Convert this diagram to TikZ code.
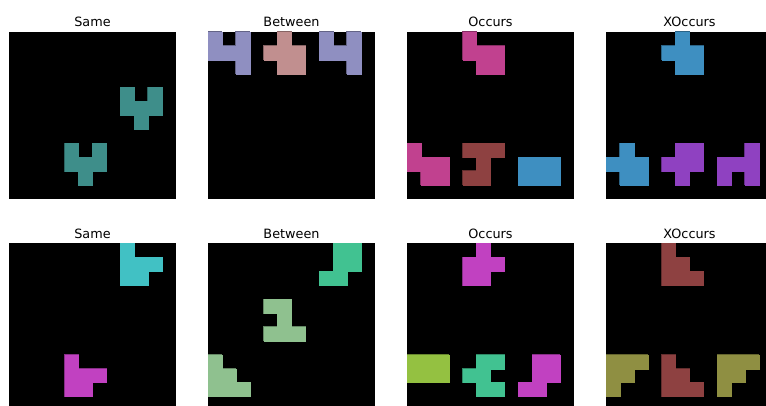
\documentclass[tikz,border=0pt]{standalone}
\usepackage{fontspec}
\setmainfont{DejaVu Sans}
\usepackage{tikz}
\usetikzlibrary{positioning}
\definecolor{tealP}{RGB}{62,142,138}
\definecolor{lilacP}{RGB}{143,143,193}
\definecolor{roseP}{RGB}{193,143,143}
\definecolor{pinkP}{RGB}{193,65,143}
\definecolor{magentaP}{RGB}{193,65,193}
\definecolor{brownP}{RGB}{142,65,65}
\definecolor{blueP}{RGB}{62,143,193}
\definecolor{violetP}{RGB}{143,65,193}
\definecolor{cyanP}{RGB}{65,193,196}
\definecolor{greenP}{RGB}{65,194,145}
\definecolor{mintP}{RGB}{143,193,143}
\definecolor{limeP}{RGB}{148,193,65}
\definecolor{oliveP}{RGB}{143,143,66}

% one piece = list of grid cells col/row, row 0 at the top
\newcommand{\piece}[2]{%
  \foreach \c/\r in {#2} \draw[draw=#1!70!black, line width=1.1pt] (\c,\r) rectangle ++(1,1);
  \foreach \c/\r in {#2} \fill[#1, draw=#1, line width=0.2pt] (\c,\r) rectangle ++(1,1);
}
% black board, pieces clipped to it
\newcommand{\board}{\fill[black] (0,0) rectangle (12,12); \clip (0,0) rectangle (12,12);}

\begin{document}
\begin{tikzpicture}[
    x=1pt, y=-1pt,
    title/.style={anchor=base, inner sep=0pt, font=\fontsize{12.8}{15}\selectfont},
    grid/.style={x=13.9pt, y=-13.9pt}
]
\useasboundingbox (0,0) rectangle (766,406);
\clip (0,0) rectangle (766,406);

% titles
\node[title] (sameA) at (92.5,26.5) {Same};
\node[title] (betweenA) at (291.5,26.5) {Between};
\node[title] (occursA) at (490.5,26.5) {Occurs};
\node[title] (xoccursA) at (689.5,26.5) {XOccurs};
\node[title] (sameB) at (92.5,238.5) {Same};
\node[title] (betweenB) at (291.5,238.5) {Between};
\node[title] (occursB) at (490.5,238.5) {Occurs};
\node[title] (xoccursB) at (689.5,238.5) {XOccurs};

% top row
\begin{scope}[shift={(9,32)}, grid]
  \board
  \piece{tealP}{8/4,10/4,8/5,9/5,10/5,9/6}
  \piece{tealP}{4/8,6/8,4/9,5/9,6/9,5/10}
\end{scope}
\begin{scope}[shift={(208,32)}, grid]
  \board
  \piece{lilacP}{0/0,0/1,1/1,2/0,2/1,2/2}
  \piece{roseP}{5/0,4/1,5/1,6/1,5/2,6/2}
  \piece{lilacP}{8/0,8/1,9/1,10/0,10/1,10/2}
\end{scope}
\begin{scope}[shift={(407,32)}, grid]
  \board
  \piece{pinkP}{4/0,4/1,5/1,6/1,5/2,6/2}
  \piece{pinkP}{0/8,0/9,1/9,2/9,1/10,2/10}
  \piece{brownP}{4/8,5/8,6/8,5/9,4/10,5/10}
  \piece{blueP}{8/9,9/9,10/9,8/10,9/10,10/10}
\end{scope}
\begin{scope}[shift={(606,32)}, grid]
  \board
  \piece{blueP}{5/0,4/1,5/1,6/1,5/2,6/2}
  \piece{blueP}{1/8,0/9,1/9,2/9,1/10,2/10}
  \piece{violetP}{5/8,6/8,4/9,5/9,6/9,5/10}
  \piece{violetP}{10/8,8/9,9/9,10/9,8/10,10/10}
\end{scope}

% bottom row
\begin{scope}[shift={(9,243.5)}, grid]
  \board
  \piece{cyanP}{8/0,8/1,9/1,10/1,8/2,9/2}
  \piece{magentaP}{4/8,4/9,5/9,6/9,4/10,5/10}
\end{scope}
\begin{scope}[shift={(208,243.5)}, grid]
  \board
  \piece{greenP}{9/0,10/0,9/1,10/1,8/2,9/2}
  \piece{mintP}{4/4,5/4,5/5,4/6,5/6,6/6}
  \piece{mintP}{0/8,0/9,1/9,0/10,1/10,2/10}
\end{scope}
\begin{scope}[shift={(407,243.5)}, grid]
  \board
  \piece{magentaP}{5/0,4/1,5/1,6/1,4/2,5/2}
  \piece{limeP}{0/8,1/8,2/8,0/9,1/9,2/9}
  \piece{greenP}{5/8,6/8,4/9,5/9,5/10,6/10}
  \piece{magentaP}{9/8,10/8,9/9,10/9,8/10,9/10}
\end{scope}
\begin{scope}[shift={(606,243.5)}, grid]
  \board
  \piece{brownP}{4/0,4/1,5/1,4/2,5/2,6/2}
  \piece{oliveP}{0/8,1/8,2/8,0/9,1/9,0/10}
  \piece{brownP}{4/8,4/9,5/9,4/10,5/10,6/10}
  \piece{oliveP}{8/8,9/8,10/8,8/9,9/9,8/10}
\end{scope}
\end{tikzpicture}
\end{document}
